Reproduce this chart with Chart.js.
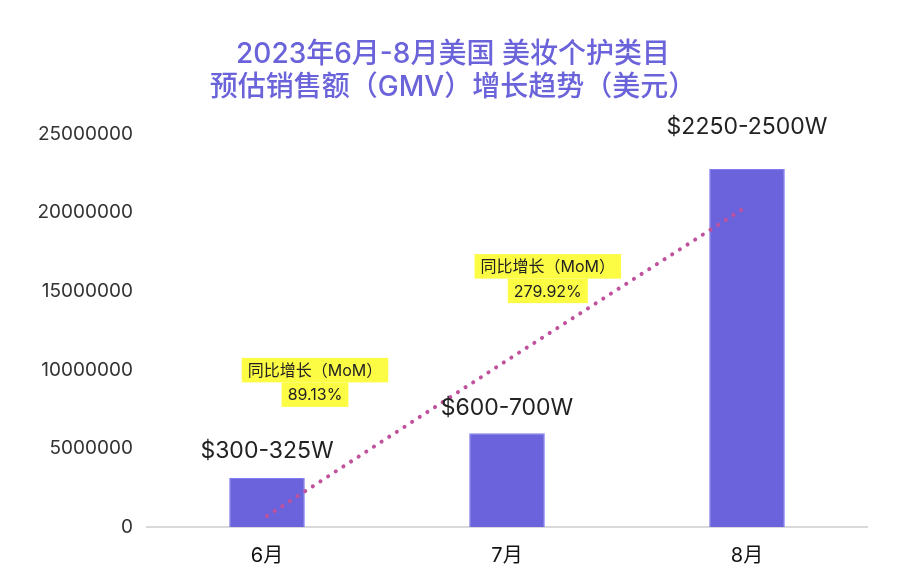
<!DOCTYPE html>
<html>
<head>
<meta charset="utf-8">
<script src="https://cdn.jsdelivr.net/npm/chart.js@4"></script>
<style>
  html, body { margin: 0; padding: 0; background: #fff; }
  #wrap { width: 906px; height: 580px; }
</style>
</head>
<body>
<div id="wrap"><canvas id="gmvChart" width="906" height="580"></canvas></div>
<script>
const months = ['6月', '7月', '8月'];
const gmvValues = [3120000, 5960000, 22770000];
const rangeLabels = ['$300-325W', '$600-700W', '$2250-2500W'];
const trendValues = [700000, 10600000, 20400000];
const momTitles = ['同比增长（MoM）', '同比增长（MoM）'];
const momRates = ['89.13%', '279.92%'];
const titleLines = ['2023年6月-8月美国 美妆个护类目', '预估销售额（GMV）增长趋势（美元）'];

const FONT = 'Inter, "Noto Sans CJK SC", sans-serif';

// two-line title, centred on the whole canvas
const titlePlugin = {
  id: 'canvasTitle',
  afterDraw(chart, args, opts) {
    const ctx = chart.ctx;
    ctx.save();
    ctx.font = '500 28px ' + FONT;
    ctx.fillStyle = '#6b63d9';
    ctx.textAlign = 'center';
    ctx.textBaseline = 'middle';
    titleLines.forEach((t, i) => {
      ctx.fillText(t, chart.width / 2, opts.top + i * opts.lineGap);
    });
    ctx.restore();
  },
};

// range labels above each bar
const barLabelPlugin = {
  id: 'barLabels',
  afterDatasetsDraw(chart, args, opts) {
    const meta = chart.getDatasetMeta(0);
    const ctx = chart.ctx;
    ctx.save();
    ctx.font = '23px ' + FONT;
    ctx.fillStyle = '#222';
    ctx.textAlign = 'center';
    ctx.textBaseline = 'middle';
    meta.data.forEach((bar, i) => {
      ctx.fillText(rangeLabels[i], bar.x, bar.y - opts.offsets[i]);
    });
    ctx.restore();
  },
};

// yellow highlighted growth notes, anchored in data units
const momPlugin = {
  id: 'momNotes',
  afterDatasetsDraw(chart, args, opts) {
    const ctx = chart.ctx;
    const xs = chart.scales.x;
    const ys = chart.scales.y;
    const lh = opts.lineHeight;
    ctx.save();
    ctx.font = '16px ' + FONT;
    ctx.textAlign = 'center';
    ctx.textBaseline = 'middle';
    opts.anchors.forEach((a, i) => {
      const cx = xs.getPixelForValue(a.x);
      const cy = ys.getPixelForValue(a.y);
      const lines = [momTitles[i], momRates[i]];
      lines.forEach((t, j) => {
        const w = ctx.measureText(t).width + opts.padX * 2;
        const ly = cy + (j - 0.5) * lh;
        ctx.fillStyle = '#fcfc45';
        ctx.fillRect(cx - w / 2, ly - lh / 2, w, lh);
        ctx.fillStyle = '#222';
        ctx.fillText(t, cx, ly + 1);
      });
    });
    ctx.restore();
  },
};

Chart.register(titlePlugin, barLabelPlugin, momPlugin);

const ctx = document.getElementById('gmvChart').getContext('2d');
new Chart(ctx, {
  type: 'bar',
  data: {
    labels: months,
    datasets: [
      {
        label: 'GMV',
        data: gmvValues,
        backgroundColor: '#6a63dc',
        borderColor: '#827cf0',
        borderWidth: 1,
        barPercentage: 0.315,
        categoryPercentage: 1,
        order: 1,
      },
      {
        type: 'line',
        label: '趋势',
        data: trendValues,
        borderColor: '#c0519c',
        borderWidth: 4,
        borderDash: [0.1, 9],
        borderCapStyle: 'round',
        pointRadius: 0,
        fill: false,
        tension: 0,
        order: 0,
      },
    ],
  },
  options: {
    responsive: false,
    animation: false,
    layout: { padding: { left: 0, right: 39, top: 134, bottom: 0 } },
    plugins: {
      legend: { display: false },
      tooltip: { enabled: false },
      title: { display: false },
      canvasTitle: { top: 55, lineGap: 33 },
      barLabels: { offsets: [27, 25, 42] },
      momNotes: {
        lineHeight: 24.5,
        padX: 6,
        anchors: [
          { x: 0.2, y: 9200000 },
          { x: 1.17, y: 15800000 },
        ],
      },
    },
    scales: {
      x: {
        grid: { display: false, drawTicks: false },
        border: { display: true, color: '#d9d9d9', width: 2 },
        ticks: { color: '#111', padding: 17, font: { family: FONT, size: 20 } },
        afterFit(s) { s.height = 53; },
      },
      y: {
        min: 0,
        max: 25000000,
        grid: { display: false, drawTicks: false },
        border: { display: false },
        ticks: {
          stepSize: 5000000,
          color: '#333',
          padding: 14,
          font: { family: FONT, size: 19 },
          callback: (v) => String(v),
        },
        afterFit(s) { s.width = 147; },
      },
    },
  },
});
</script>
</body>
</html>
